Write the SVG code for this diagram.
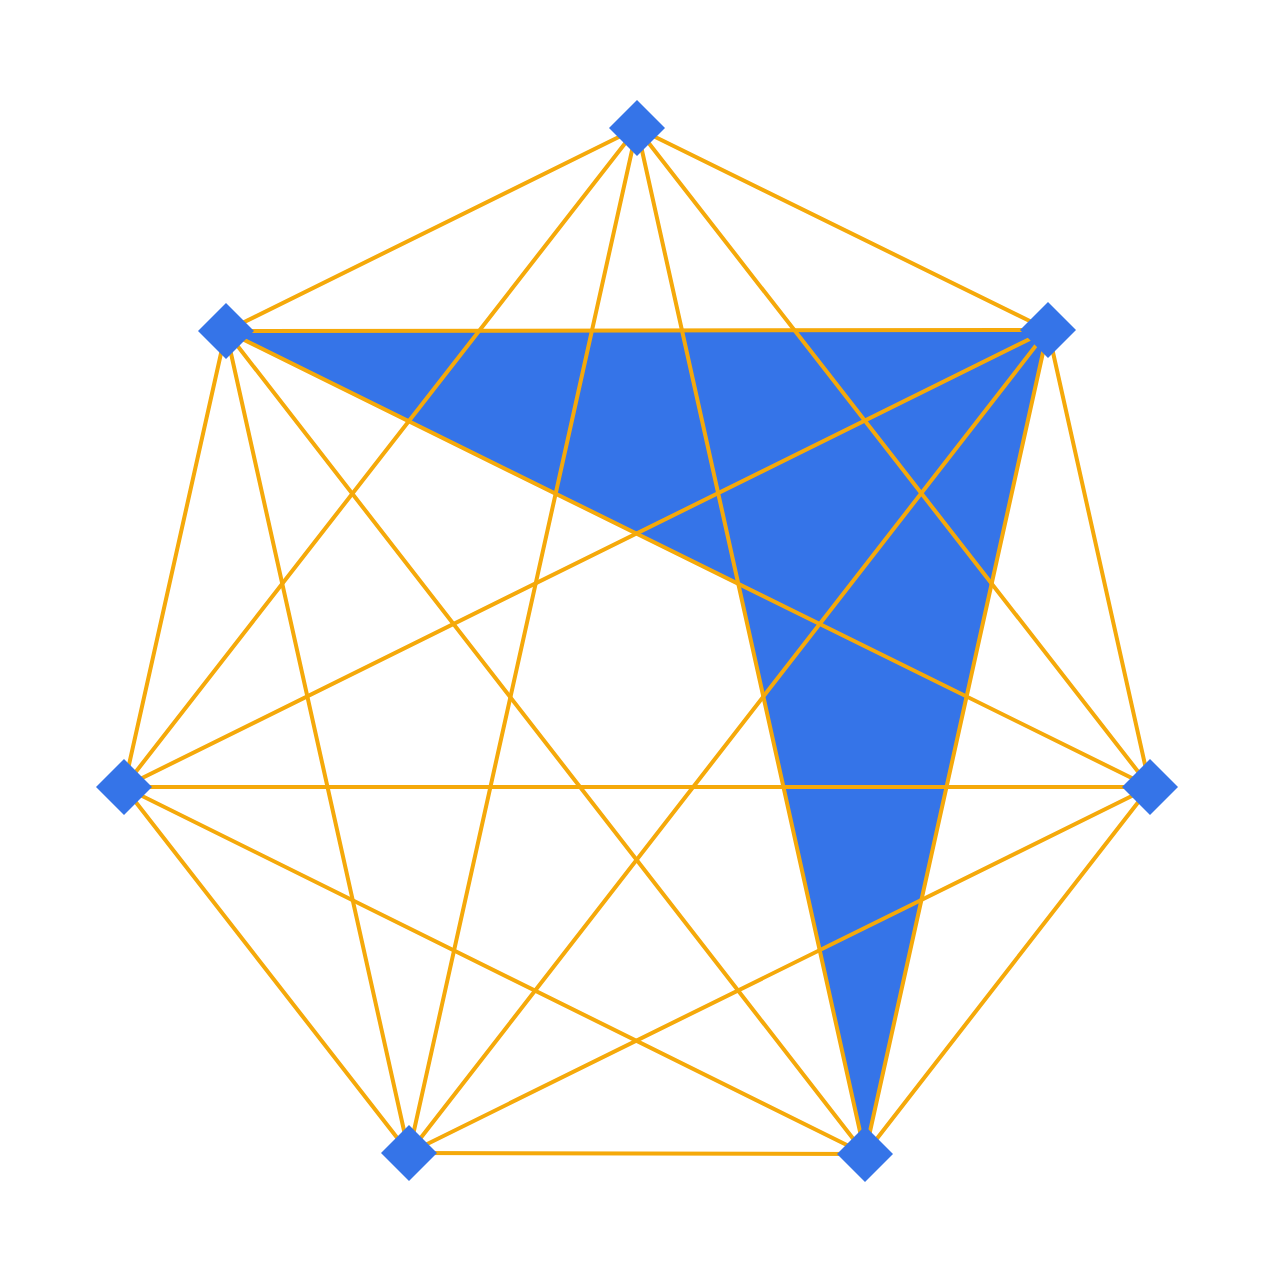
<svg xmlns="http://www.w3.org/2000/svg" width="1280" height="1280" viewBox="0 0 1280 1280">
<style>
.e{stroke:#F5A90A;stroke-width:4;fill:none;stroke-linecap:round}
.n{fill:#3574E8}
.f{fill:#3574E8}
</style>
<defs>
<path id="d" d="M0,-28 L28,0 L0,28 L-28,0 Z"/>
</defs>
<rect width="1280" height="1280" fill="#ffffff"/>
<polygon class="f" points="226,331 1048,330 865,1154 738.3,583.8"/>
<g id="connectors">
<line class="e" x1="637" y1="128" x2="1048" y2="330"/>
<line class="e" x1="637" y1="128" x2="1150" y2="787"/>
<line class="e" x1="637" y1="128" x2="865" y2="1154"/>
<line class="e" x1="637" y1="128" x2="409" y2="1153"/>
<line class="e" x1="637" y1="128" x2="124" y2="787"/>
<line class="e" x1="637" y1="128" x2="226" y2="331"/>
<line class="e" x1="1048" y1="330" x2="1150" y2="787"/>
<line class="e" x1="1048" y1="330" x2="865" y2="1154"/>
<line class="e" x1="1048" y1="330" x2="409" y2="1153"/>
<line class="e" x1="1048" y1="330" x2="124" y2="787"/>
<line class="e" x1="1048" y1="330" x2="226" y2="331"/>
<line class="e" x1="1150" y1="787" x2="865" y2="1154"/>
<line class="e" x1="1150" y1="787" x2="409" y2="1153"/>
<line class="e" x1="1150" y1="787" x2="124" y2="787"/>
<line class="e" x1="1150" y1="787" x2="226" y2="331"/>
<line class="e" x1="865" y1="1154" x2="409" y2="1153"/>
<line class="e" x1="865" y1="1154" x2="124" y2="787"/>
<line class="e" x1="865" y1="1154" x2="226" y2="331"/>
<line class="e" x1="409" y1="1153" x2="124" y2="787"/>
<line class="e" x1="409" y1="1153" x2="226" y2="331"/>
<line class="e" x1="124" y1="787" x2="226" y2="331"/>
</g>
<g id="node-top"><use href="#d" class="n" x="637" y="128"/></g>
<g id="node-upper-right"><use href="#d" class="n" x="1048" y="330"/></g>
<g id="node-right"><use href="#d" class="n" x="1150" y="787"/></g>
<g id="node-bottom-right"><use href="#d" class="n" x="865" y="1154"/></g>
<g id="node-bottom-left"><use href="#d" class="n" x="409" y="1153"/></g>
<g id="node-left"><use href="#d" class="n" x="124" y="787"/></g>
<g id="node-upper-left"><use href="#d" class="n" x="226" y="331"/></g>
</svg>
